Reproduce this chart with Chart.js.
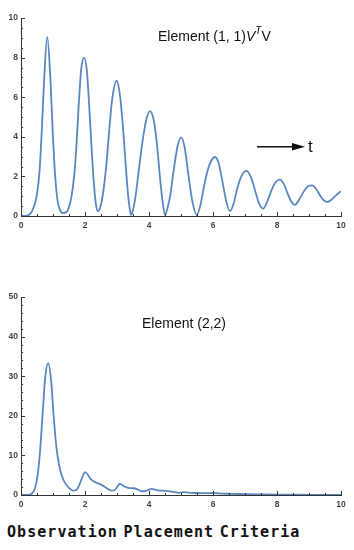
<!DOCTYPE html>
<html>
<head>
<meta charset="utf-8">
<script src="https://cdn.jsdelivr.net/npm/chart.js@4"></script>
<style>
    body { margin: 0; background: #fff; width: 354px; height: 550px; position: relative; overflow: hidden; }
    canvas { position: absolute; left: 0; }
    .titulo { position: absolute; font-family: 'Liberation Sans', Arial, sans-serif; font-size: 14px; color: #111; white-space: nowrap; }
    .titulo sup { font-size: 10px; position: relative; top: -1px; }
    #pie { position: absolute; left: 7px; top: 523px; font-family: 'DejaVu Sans Mono', monospace; font-weight: bold;
           font-size: 15px; letter-spacing: 1.05px; word-spacing: -4.5px; color: #111; white-space: nowrap; }
</style>
</head>
<body>
<canvas id="grafico1" width="354" height="235" style="top:0px"></canvas>
<canvas id="grafico2" width="354" height="235" style="top:279px"></canvas>
<div class="titulo" style="left:158px; top:26px">Element (1, 1)<i>V</i><sup><i>T</i></sup>V</div>
<div class="titulo" style="left:142px; top:315px">Element (2,2)</div>
<svg style="position:absolute; left:250px; top:136px" width="80" height="22">
    <line x1="7" y1="10.7" x2="46" y2="10.7" stroke="#111" stroke-width="1.5"/>
    <polygon points="42,7 55,10.7 42,14.4" fill="#111"/>
    <text x="58" y="16" font-family="Liberation Sans, Arial, sans-serif" font-size="17" fill="#111">t</text>
</svg>
<div id="pie">Observation Placement Criteria</div>
<script>
// Valores: elemento (1,1)
const tiempo1 = [0, 0.2, 0.33, 0.42, 0.5, 0.58, 0.65, 0.72, 0.82, 0.92, 0.99, 1.06, 1.14, 1.22, 1.31, 1.42, 1.5,
    1.58, 1.66, 1.73, 1.8, 1.88, 1.97, 2.06, 2.13, 2.2, 2.27, 2.34, 2.4, 2.47, 2.55, 2.65, 2.75, 2.85, 2.99, 3.1,
    3.2, 3.28, 3.35, 3.4, 3.44, 3.5, 3.58, 3.68, 3.8, 3.92, 4.03, 4.14, 4.25, 4.34, 4.42, 4.5, 4.57, 4.66, 4.77,
    4.89, 5.0, 5.11, 5.23, 5.36, 5.49, 5.6, 5.72, 5.84, 5.95, 6.06, 6.17, 6.3, 6.42, 6.53, 6.64, 6.76, 6.9, 7.05,
    7.2, 7.33, 7.45, 7.57, 7.7, 7.84, 7.96, 8.09, 8.22, 8.34, 8.45, 8.56, 8.7, 8.84, 8.97, 9.1, 9.23, 9.36, 9.47,
    9.58, 9.7, 9.82, 9.92, 10.0];
const elemento11 = [0, 0.02, 0.2, 0.55, 1.1, 2.3, 4.3, 6.8, 9.05, 6.9, 4.3, 2.2, 0.8, 0.3, 0.15, 0.2, 0.45,
    1.0, 2.0, 3.5, 5.5, 7.4, 8.0, 7.3, 5.6, 3.6, 1.8, 0.6, 0.24, 0.4, 1.0, 2.3, 4.2, 5.9, 6.83, 6.0,
    4.2, 2.4, 1.0, 0.35, 0.05, 0.3, 1.0, 2.3, 3.8, 4.9, 5.3, 4.9, 3.6, 2.0, 0.8, 0.05, 0.35, 1.0, 2.3,
    3.5, 3.97, 3.5, 2.1, 0.7, 0.05, 0.5, 1.5, 2.35, 2.8, 2.98, 2.7, 1.7, 0.7, 0.25, 0.6, 1.4, 2.05, 2.28,
    1.9, 1.2, 0.6, 0.37, 0.75, 1.35, 1.72, 1.84, 1.6, 1.1, 0.72, 0.56, 0.85, 1.25, 1.5, 1.55, 1.35, 1.0, 0.78,
    0.71, 0.82, 1.0, 1.15, 1.25];

// Valores: elemento (2,2)
const tiempo2 = [0, 0.2, 0.33, 0.43, 0.52, 0.6, 0.68, 0.76, 0.85, 0.94, 1.02, 1.1, 1.18, 1.27, 1.38, 1.5, 1.62,
    1.72, 1.82, 1.92, 2.0, 2.08, 2.18, 2.3, 2.45, 2.57, 2.7, 2.82, 2.92, 3.0, 3.09, 3.2, 3.35, 3.5, 3.62, 3.75,
    3.85, 3.95, 4.08, 4.2, 4.4, 4.6, 4.8, 4.95, 5.1, 5.25, 5.5, 5.8, 6.0, 6.3, 6.6, 7.0, 7.5, 8.0, 8.5, 9.0,
    9.5, 10.0];
const elemento22 = [0, 0.02, 0.3, 1.5, 5, 11.5, 21, 30, 33.3, 29, 20, 12.5, 8, 5, 3, 1.8, 1.1,
    1.2, 2.5, 4.6, 5.8, 5.2, 4.0, 3.3, 2.8, 2.3, 1.6, 1.1, 1.2, 2.0, 2.8, 2.3, 1.8, 1.7, 1.5, 1.0,
    0.95, 1.2, 1.55, 1.3, 1.1, 1.0, 0.7, 0.55, 0.75, 0.6, 0.5, 0.45, 0.5, 0.35, 0.3, 0.2, 0.15, 0.1, 0.08, 0.05,
    0.04, 0.03];

// Rango de ejes y marcas
const rangoX = { min: 0, max: 10, paso: 0.5, etiqueta: 2 };
const rangoY1 = { min: 0, max: 10, paso: 0.5, etiqueta: 2 };
const rangoY2 = { min: 0, max: 50, paso: 2, etiqueta: 10 };

const colorLinea = '#5b87be';
const colorEje = '#333';

// Marcas hacia adentro, como en Mathematica
const marcasInternas = {
    id: 'marcasInternas',
    afterDatasetsDraw(chart) {
        const c = chart.ctx;
        const area = chart.chartArea;
        c.save();
        c.strokeStyle = colorEje;
        c.lineWidth = 1;
        const ejeX = chart.scales.x;
        ejeX.ticks.forEach(t => {
            const px = Math.round(ejeX.getPixelForValue(t.value)) + 0.5;
            const largo = Math.abs(t.value % rangoX.etiqueta) < 1e-6 ? 4 : 2;
            c.beginPath();
            c.moveTo(px, area.bottom);
            c.lineTo(px, area.bottom - largo);
            c.stroke();
        });
        const ejeY = chart.scales.y;
        const mayor = chart.options.scales.y.mayor;
        ejeY.ticks.forEach(t => {
            const py = Math.round(ejeY.getPixelForValue(t.value)) + 0.5;
            const largo = Math.abs(t.value % mayor) < 1e-6 ? 4 : 2;
            c.beginPath();
            c.moveTo(area.left, py);
            c.lineTo(area.left + largo, py);
            c.stroke();
        });
        c.restore();
    }
};

function crearGrafico(id, tiempos, valores, rangoY) {
    const ctx = document.getElementById(id).getContext('2d');
    return new Chart(ctx, {
        type: 'line',
        data: {
            datasets: [{
                data: tiempos.map((t, i) => ({ x: t, y: valores[i] })),
                borderColor: colorLinea,
                borderWidth: 1.8,
                pointRadius: 0,
                fill: false,
                cubicInterpolationMode: 'monotone'
            }]
        },
        options: {
            responsive: false,
            animation: false,
            devicePixelRatio: 1,
            layout: { padding: { top: 18, right: 13, left: 0, bottom: 0 } },
            plugins: { legend: { display: false }, tooltip: { enabled: false } },
            scales: {
                x: {
                    type: 'linear',
                    min: rangoX.min,
                    max: rangoX.max,
                    afterFit: s => { s.height = 19; },
                    border: { display: true, color: colorEje, width: 1 },
                    grid: { drawOnChartArea: false, drawTicks: false },
                    ticks: {
                        stepSize: rangoX.paso,
                        maxTicksLimit: 100,
                        autoSkip: false,
                        maxRotation: 0,
                        padding: 5,
                        color: '#444',
                        font: { family: 'Liberation Sans', size: 8.5, weight: 'bold' },
                        callback: v => (Math.abs(v % rangoX.etiqueta) < 1e-6 ? v : '')
                    }
                },
                y: {
                    min: rangoY.min,
                    max: rangoY.max,
                    mayor: rangoY.etiqueta,
                    afterFit: s => { s.width = 21; },
                    border: { display: true, color: colorEje, width: 1 },
                    grid: { drawOnChartArea: false, drawTicks: false },
                    ticks: {
                        stepSize: rangoY.paso,
                        maxTicksLimit: 100,
                        autoSkip: false,
                        padding: 3,
                        color: '#444',
                        font: { family: 'Liberation Sans', size: 8.5, weight: 'bold' },
                        callback: v => (Math.abs(v % rangoY.etiqueta) < 1e-6 ? v : '')
                    }
                }
            }
        },
        plugins: [marcasInternas]
    });
}

crearGrafico('grafico1', tiempo1, elemento11, rangoY1);
crearGrafico('grafico2', tiempo2, elemento22, rangoY2);
</script>
</body>
</html>
